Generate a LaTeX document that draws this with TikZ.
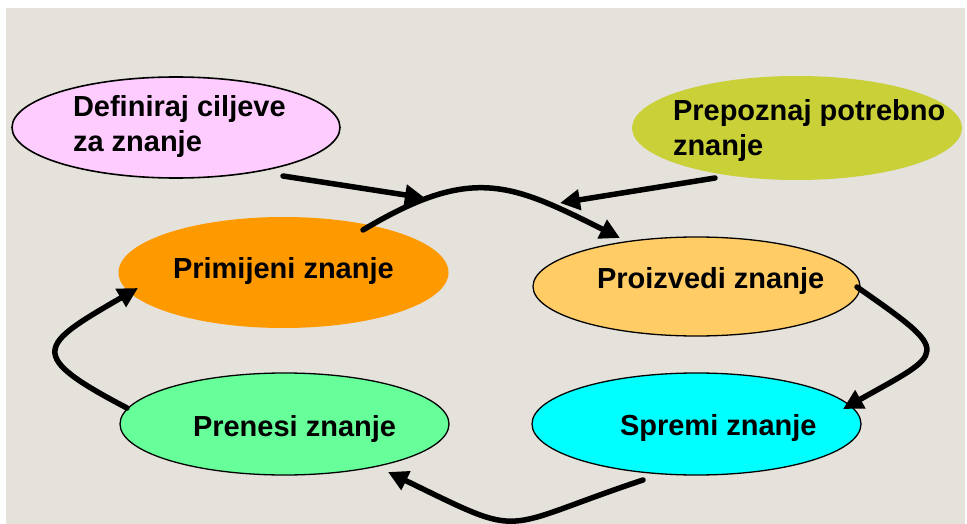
\documentclass[tikz,border=0pt]{standalone}
\usepackage{fontspec}
\setmainfont{Liberation Sans}
\usetikzlibrary{arrows.meta,calc,shapes.geometric}

\definecolor{paper}{RGB}{228,226,219}
\definecolor{pinkfill}{RGB}{255,204,255}
\definecolor{olivefill}{RGB}{201,208,56}
\definecolor{orangefill}{RGB}{255,153,0}
\definecolor{peachfill}{RGB}{255,204,102}
\definecolor{greenfill}{RGB}{102,255,153}
\definecolor{cyanfill}{RGB}{0,255,255}

\begin{document}
\begin{tikzpicture}[x=1pt,y=-1pt,
  blob/.style={ellipse, inner sep=0pt, outer sep=0pt},
  rim/.style={draw=black, line width=1.3pt},
  txt/.style={inner sep=0pt, outer sep=0pt, font=\bfseries\fontsize{29}{35}\selectfont},
  flow/.style={draw=black, line width=5.5pt, line cap=round,
    -{Triangle[length=20pt,width=20pt]}}]

% page and backdrop
\useasboundingbox (0,0) rectangle (967,524);
\fill[white] (0,0) rectangle (967,524);
\fill[paper] (6,8) rectangle (965,524);

% goal and need ellipses
\node[blob, rim, line width=1.6pt, fill=pinkfill, minimum width=328pt, minimum height=101pt] (ciljevi) at (176,127.5) {};
\node[blob, fill=olivefill, minimum width=330pt, minimum height=104pt] (potrebno) at (797,128) {};

% cycle ellipses
\node[blob, fill=orangefill, minimum width=330pt, minimum height=111pt] (primijeni) at (283.5,272.5) {};
\node[blob, rim, fill=peachfill, minimum width=327pt, minimum height=99pt] (proizvedi) at (696.5,286.5) {};
\node[blob, rim, fill=greenfill, minimum width=329pt, minimum height=102pt] (prenesi) at (284.5,424) {};
\node[blob, rim, fill=cyanfill, minimum width=329pt, minimum height=102pt] (spremi) at (696.5,424) {};

% labels (two-line labels are anchored on their last baseline)
\node[txt, align=left, anchor=base west] (ciljevi-t) at (73,152) {Definiraj ciljeve\\za znanje};
\node[txt, align=left, anchor=base west] (potrebno-t) at (673,156) {Prepoznaj potrebno\\znanje};
\node[txt, anchor=base west] (primijeni-t) at (173,278) {Primijeni znanje};
\node[txt, anchor=base west] (proizvedi-t) at (597,288) {Proizvedi znanje};
\node[txt, anchor=base west] (prenesi-t) at (193,436) {Prenesi znanje};
\node[txt, anchor=base west] (spremi-t) at (620,435) {Spremi znanje};

% connector end points
\coordinate (ciljevi-out) at ($(ciljevi)+(107,48.5)$);
\coordinate (ciljevi-in) at (425,198);
\coordinate (potrebno-out) at ($(potrebno)+(-82,50)$);
\coordinate (potrebno-in) at (560,203);
\coordinate (primijeni-out) at ($(primijeni)+(79.5,-42.5)$);
\coordinate (proizvedi-in) at ($(proizvedi)+(-76.5,-48.5)$);
\coordinate (proizvedi-out) at ($(proizvedi)+(160.5,0.5)$);
\coordinate (spremi-in) at ($(spremi)+(146.5,-15)$);
\coordinate (spremi-out) at ($(spremi)+(-53.5,56)$);
\coordinate (prenesi-in) at ($(prenesi)+(103.5,48)$);
\coordinate (prenesi-out) at ($(prenesi)+(-157.5,-16)$);
\coordinate (primijeni-in) at ($(primijeni)+(-145.5,15.5)$);

% inputs into the cycle
\draw[flow] (ciljevi-out) -- (ciljevi-in);
\draw[flow] (potrebno-out) -- (potrebno-in);

% the knowledge cycle
\draw[flow] (primijeni-out) .. controls (472,164.6) and (511,183.5) .. (proizvedi-in);
\draw[flow] (proizvedi-out) .. controls (953.8,354.5) and (945.9,351.2) .. (spremi-in);
\draw[flow] (spremi-out) .. controls (495,529.3) and (528.4,540.2) .. (prenesi-in);
\draw[flow] (prenesi-out) .. controls (25.1,354.6) and (38.4,345.6) .. (primijeni-in);

\end{tikzpicture}
\end{document}
